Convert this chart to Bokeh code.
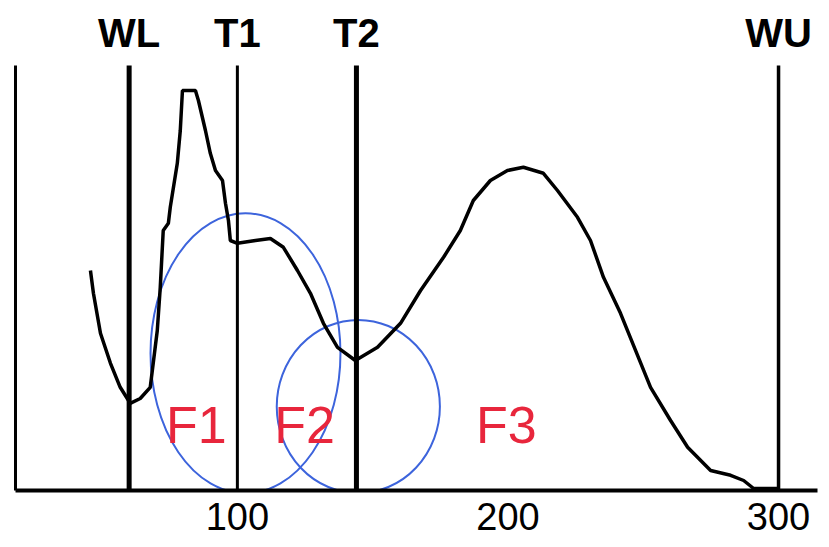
from bokeh.plotting import figure
from bokeh.models import FixedTicker, Range1d
from bokeh.core.properties import value
from bokeh.embed import file_html
from bokeh.resources import INLINE

# ---- data ----
grey_x = [45.7, 46.8, 49.4, 53.1, 56.7, 60.4, 64.1, 67.8, 70.4, 71.5, 72.6, 74.5, 75.2,
          77.8, 78.9, 79.7, 84.5, 85.6, 88.2, 90.0, 91.9, 94.5, 95.6, 96.7, 97.4, 100.0,
          106.7, 112.2, 117.0, 122.2, 127.0, 131.8, 137.0, 143.6, 151.8, 160.3, 167.7,
          176.2, 182.4, 187.2, 193.5, 199.8, 205.7, 213.1, 218.3, 225.7, 230.5, 235.3,
          241.6, 246.4, 252.7, 260.1, 266.4, 274.9, 282.3, 287.1, 290.8, 299.6]
freq = [55.0, 49.3, 39.3, 31.8, 25.8, 21.8, 23.0, 25.8, 40.0, 50.8, 65.0, 66.8, 70.8,
        81.8, 90.0, 100.0, 100.0, 97.5, 90.0, 84.3, 80.0, 77.5, 71.8, 67.5, 62.5, 61.8,
        62.5, 63.0, 60.8, 55.0, 49.3, 41.8, 35.8, 32.5, 35.8, 41.8, 50.0,
        58.3, 65.0, 72.5, 77.5, 80.0, 80.8, 79.3, 75.0, 68.3, 62.5, 53.3,
        44.3, 36.3, 25.8, 17.5, 10.8, 5.0, 3.8, 2.5, 0.5, 0.5]

thresholds = [60, 100, 144, 300]
threshold_labels = ["WL", "T1", "T2", "WU"]

regions = ["F1", "F2", "F3"]
region_x = [84.8, 124.8, 199.4]

# region ellipses (center x, center y, width, height in data units)
ell_x = [103.0, 144.7]
ell_y = [34.3, 21.0]
ell_w = [70.2, 60.3]
ell_h = [70.0, 43.3]

ticks = [100, 200, 300]

# ---- figure ----
p = figure(width=829, height=547, x_range=Range1d(18, 314.4), y_range=Range1d(0, 122.5),
           output_backend="svg", toolbar_location=None,
           min_border_left=15, min_border_right=12, min_border_top=0, min_border_bottom=57)
p.grid.visible = False
p.outline_line_color = None
p.background_fill_color = "white"

p.xaxis.ticker = FixedTicker(ticks=ticks)
p.xaxis.axis_line_width = 4
p.xaxis.axis_line_color = "black"
p.xaxis.major_tick_in = 0
p.xaxis.major_tick_out = 0
p.xaxis.minor_tick_line_color = None
p.xaxis.major_label_standoff = 12
p.xaxis.major_label_text_font = "Liberation Sans"
p.xaxis.major_label_text_font_size = "38px"
p.xaxis.major_label_text_color = "black"

p.yaxis.ticker = FixedTicker(ticks=[])
p.yaxis.bounds = (0, 106.25)
p.yaxis.axis_line_width = 3
p.yaxis.axis_line_color = "black"
p.yaxis.major_tick_in = 0
p.yaxis.major_tick_out = 0
p.yaxis.minor_tick_line_color = None
p.yaxis.major_label_standoff = 0

# ellipses
p.ellipse(x=ell_x, y=ell_y, width=ell_w, height=ell_h, fill_alpha=0,
          line_color="#3d64dc", line_width=2)

# threshold lines
p.segment(x0=thresholds, y0=[0] * 4, x1=thresholds, y1=[106.25] * 4,
          line_color="black", line_width=[5, 3, 5, 3.5])

# histogram curve
p.line(grey_x, freq, line_color="black", line_width=3.5)

# labels
p.text(x=thresholds, y=[114.5] * 4, text=threshold_labels,
       text_font=value("Liberation Sans"), text_font_style="bold",
       text_font_size="40px", text_align="center", text_baseline="alphabetic",
       text_color="black")

p.text(x=region_x, y=[16.5] * 3, text=regions,
       text_font=value("Liberation Sans"), text_font_size="52px",
       text_align="center", text_baseline="alphabetic", text_color="#e8263c")

open("out.html", "w").write(file_html(p, INLINE))
